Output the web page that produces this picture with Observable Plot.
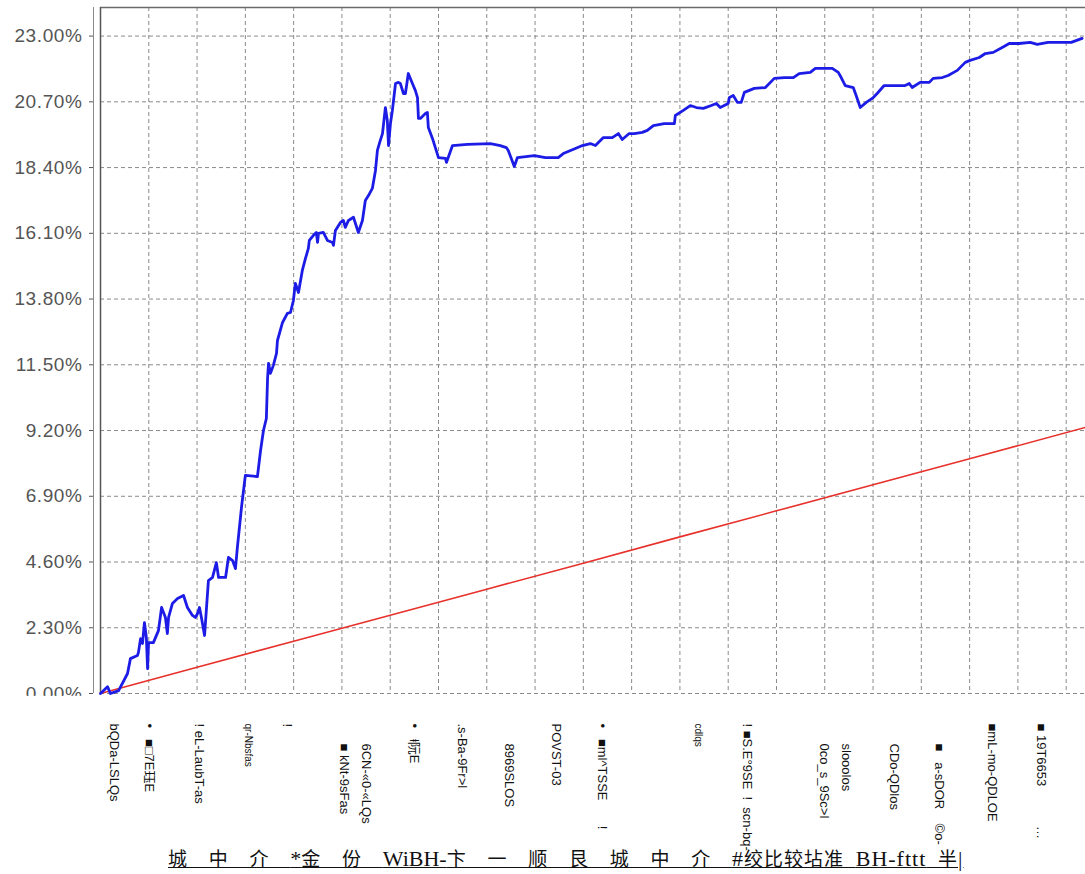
<!DOCTYPE html>
<html><head><meta charset="utf-8">
<script src="https://cdn.jsdelivr.net/npm/d3@7"></script>
<script src="https://cdn.jsdelivr.net/npm/@observablehq/plot@0.6"></script>
<style>
body{margin:0;background:#fff;}
#legend{width:1085px;height:29px;position:relative;font-family:"Liberation Serif","Noto Sans CJK SC",serif;font-size:19px;color:#111;white-space:pre;}
#legend .t{position:absolute;left:168px;top:3px;text-decoration:underline;word-spacing:17px;line-height:22px}
#legend .lat{font-size:22px}
#legend .tail{word-spacing:6px;letter-spacing:1px}
</style></head><body>
<div id="chart"></div><div id="legend"></div>
<script>
// y ticks (percent)
const yTicks = [0, 2.3, 4.6, 6.9, 9.2, 11.5, 13.8, 16.1, 18.4, 20.7, 23.0];
// vertical grid (day index)
const xGridDays = [20,40,60,80,100,120,140,160,180,200,220,240,260,280,300,320,340,360,380,400];

// blue series: [day, cumulative %]
const blueSeries = [[0,0.00],[1.2,0.10],[2.9,0.24],[4.1,0.00],[7.5,0.10],[11.2,0.70],[12.4,1.22],[15.3,1.33],[15.7,1.43],[16.6,1.92],[17.4,1.75],[18.2,2.48],[19.0,1.96],[19.5,0.87],[19.9,1.78],[21.9,1.78],[24.0,2.20],[25.3,3.01],[26.9,2.66],[27.7,2.10],[28.2,2.66],[29.8,3.15],[31.9,3.32],[34.4,3.43],[36.0,3.01],[38.1,2.73],[39.3,2.66],[40.2,2.80],[41.0,3.01],[41.8,2.66],[43.1,2.03],[44.7,3.95],[46.4,4.06],[48.0,4.58],[48.9,4.06],[51.8,4.06],[53.0,4.76],[54.7,4.65],[55.9,4.37],[56.7,5.11],[58.4,6.51],[60.0,7.63],[65.0,7.59],[66.3,8.50],[67.5,9.20],[68.7,9.62],[69.2,11.02],[69.6,11.55],[70.4,11.20],[71.6,11.48],[72.9,11.90],[73.3,12.35],[75.4,12.98],[77.4,13.30],[78.7,13.33],[79.9,13.75],[80.7,14.35],[82.0,14.03],[83.6,14.80],[84.9,15.22],[86.1,15.57],[86.5,15.85],[88.2,16.03],[89.4,16.13],[89.9,15.78],[90.3,16.10],[92.3,16.13],[94.0,15.85],[96.1,15.78],[96.5,15.68],[97.3,16.20],[99.4,16.48],[100.6,16.55],[101.4,16.31],[102.7,16.55],[104.8,16.66],[106.8,16.13],[108.5,16.55],[109.7,17.25],[111.0,17.42],[112.6,17.67],[113.9,18.30],[114.7,19.00],[115.9,19.35],[116.8,19.59],[118.0,20.50],[118.8,20.05],[119.3,19.17],[120.1,19.94],[120.9,20.40],[122.2,21.34],[123.4,21.38],[124.2,21.34],[125.5,20.99],[126.3,20.99],[127.5,21.69],[129.2,21.34],[130.4,21.10],[131.3,20.85],[131.7,20.12],[132.5,20.12],[134.6,20.29],[135.4,20.33],[135.8,19.80],[137.5,19.42],[138.7,19.10],[140.0,18.75],[142.9,18.72],[143.3,18.58],[145.8,19.17],[152.0,19.21],[161.5,19.24],[165.6,19.17],[168.1,19.10],[168.9,19.00],[171.4,18.44],[172.7,18.75],[179.7,18.82],[184.3,18.75],[189.6,18.75],[191.7,18.89],[196.7,19.07],[199.6,19.17],[202.9,19.24],[205.0,19.17],[208.3,19.45],[212.0,19.45],[214.5,19.59],[216.1,19.38],[219.0,19.59],[221.1,19.59],[224.4,19.63],[226.5,19.70],[229.0,19.87],[233.5,19.94],[237.7,19.94],[238.1,20.22],[241.4,20.40],[244.3,20.57],[246.8,20.50],[249.7,20.47],[253.0,20.57],[255.1,20.64],[256.7,20.50],[260.0,20.64],[260.5,20.85],[262.1,20.92],[263.8,20.68],[265.4,20.68],[266.7,21.03],[270.8,21.17],[275.4,21.20],[279.1,21.52],[283.2,21.55],[287.0,21.55],[289.4,21.69],[294.0,21.73],[296.1,21.87],[303.1,21.87],[305.6,21.73],[306.8,21.55],[308.5,21.27],[311.8,21.20],[313.0,20.92],[314.7,20.50],[317.2,20.68],[320.1,20.85],[321.7,20.99],[324.6,21.27],[329.6,21.27],[333.3,21.27],[335.0,21.34],[336.2,21.20],[339.5,21.38],[343.3,21.38],[344.9,21.52],[348.7,21.55],[351.1,21.62],[354.9,21.80],[358.2,22.08],[360.2,22.15],[364.0,22.25],[366.5,22.39],[369.8,22.43],[373.5,22.60],[376.4,22.74],[380.5,22.74],[385.1,22.78],[388.0,22.71],[392.5,22.78],[397.5,22.78],[402.1,22.78],[406.6,22.92]];

// red benchmark series: [day, cumulative %]
const redSeries = [[0,0.00],[40,0.92],[80,1.83],[120,2.74],[160,3.65],[200,4.56],[240,5.48],[280,6.39],[320,7.30],[360,8.21],[408,9.31]];

// rotated x labels (as printed), upper row
const topLabels = ["bQDa-LSLQs","•\u00a0\u00a0\u00a0■□7E珏E","! eL-LaubT-as","!","•\u00a0\u00a0\u00a0ⱡ阮E",".s-Ba-9Fr>l","POVST-03","•\u00a0\u00a0\u00a0■ml^TSSE\u00a0\u00a0\u00a0\u00a0\u00a0\u00a0\u00a0!","! ■S.E°9SE\u00a0\u00a0!\u00a0\u00a0scn-bq-","■mL-mo-QDLOE","■ 19T6653\u00a0\u00a0\u00a0\u00a0\u00a0\u00a0\u00a0\u00a0\u00a0\u00a0\u00a0…"];
const topAt = [4.1, 18.6, 39.3, 75.8, 128.0, 148.2, 187.2, 206.2, 266.3, 367.7, 388.0];
// lower row
const lowLabels = ["■ kNt-9sFas","6CN-«0-«LQs","8969SLOS","0co_s_9Sc>l","slooolos","CDo-QDlos","■\u00a0\u00a0\u00a0a-sDOR\u00a0\u00a0\u00a0\u00a0©o-"];
const lowAt = [99.4, 108.5, 167.7, 298.1, 307.2, 327.1, 345.8];
// small labels
const smallLabels = ["qr-Nbsfas","cdlqs"];
const smallAt = [60.0, 246.4];

// legend text
const legendTokens = ["城","中","介","*金","份","WiBH-卞","一","顺","艮","城","中","介"];
const legendTail = "#绞比较坫准 BH-fttt 半|";

const blueRows = blueSeries.map(([d, v]) => ({day: d, pct: v}));
const redRows = redSeries.map(([d, v]) => ({day: d, pct: v}));
const topRows = topLabels.map((s, i) => ({s, d: topAt[i]}));
const lowRows = lowLabels.map((s, i) => ({s, d: lowAt[i]}));
const smallRows = smallLabels.map((s, i) => ({s, d: smallAt[i]}));

const gridStyle = {stroke: "#8a8a8a", strokeOpacity: 1, strokeDasharray: "4,3", strokeWidth: 1};

const chart = Plot.plot({
  width: 1085,
  height: 845,
  marginLeft: 100,
  marginRight: 0,
  marginTop: 7,
  marginBottom: 152,
  style: {fontFamily: '"Liberation Sans", Arial, "DejaVu Sans", "Noto Sans CJK SC", sans-serif', background: "white", overflow: "visible"},
  x: {domain: [0, 408], axis: null},
  y: {domain: [0, 24], axis: null},
  marks: [
    Plot.gridX(xGridDays, gridStyle),
    Plot.gridY(yTicks, gridStyle),
    Plot.ruleY([24], {stroke: "#6a6a6a", strokeWidth: 1.5}),
    Plot.ruleX([0], {stroke: "#555", strokeWidth: 1.5}),
    Plot.ruleX([0], {dx: -7, stroke: "#8a8a8a", strokeWidth: 1}),
    Plot.line(redRows, {x: "day", y: "pct", stroke: "#e8302a", strokeWidth: 1.6}),
    Plot.line(blueRows, {x: "day", y: "pct", stroke: "#1c1ce6", strokeWidth: 2.8, strokeLinejoin: "round"}),
    Plot.axisY(yTicks, {anchor: "left", label: null, tickSize: 4, tickPadding: 7, dx: -7, fontSize: 19, color: "#555", tickFormat: d => d.toFixed(2) + "%"}),
    Plot.rect([0], {x1: -45, x2: -1, y1: -0.1, y2: -1.4, fill: "white"}),
    Plot.text(topRows, {x: "d", text: "s", frameAnchor: "bottom", rotate: 90, textAnchor: "start", dy: 30, fontSize: 13, fill: "#111"}),
    Plot.text(lowRows, {x: "d", text: "s", frameAnchor: "bottom", rotate: 90, textAnchor: "start", dy: 50, fontSize: 13, fill: "#111"}),
    Plot.text(smallRows, {x: "d", text: "s", frameAnchor: "bottom", rotate: 90, textAnchor: "start", dy: 30, fontSize: 10, fill: "#111"})
  ]
});
chart.querySelectorAll('g[aria-label="y-axis tick label"] text').forEach(t => t.setAttribute("letter-spacing", "0.6"));
document.getElementById("chart").appendChild(chart);

const esc = s => s.replace(/([A-Za-z\-*#|]+)/g, '<span class="lat">$1</span>');
document.getElementById("legend").innerHTML =
  '<span class="t">' + esc(legendTokens.join(" ")) + ' <span class="tail">' + esc(legendTail) + '</span></span>';
</script>
</body></html>
